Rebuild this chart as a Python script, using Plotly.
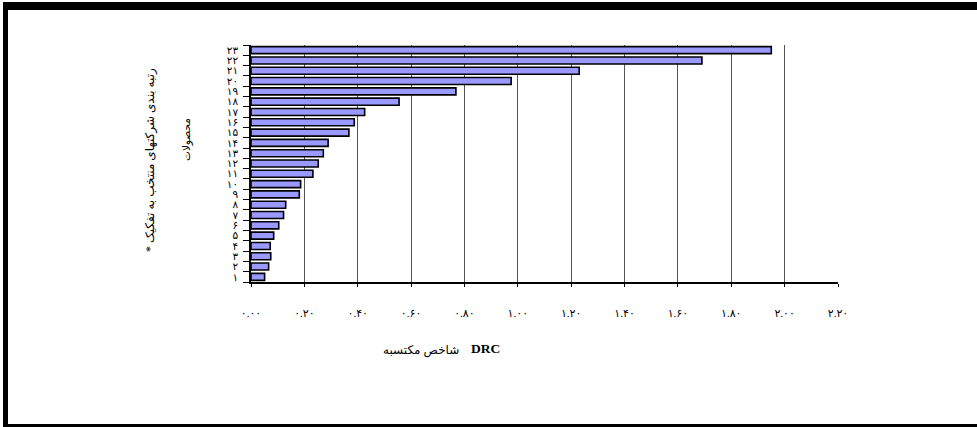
import plotly.graph_objects as go

categories = ["۱", "۲", "۳", "۴", "۵", "۶", "۷", "۸", "۹", "۱۰", "۱۱", "۱۲",
              "۱۳", "۱۴", "۱۵", "۱۶", "۱۷", "۱۸", "۱۹", "۲۰", "۲۱", "۲۲", "۲۳"]
drc_values = [0.051, 0.066, 0.074, 0.072, 0.085, 0.104, 0.122, 0.130, 0.181, 0.186,
              0.232, 0.252, 0.271, 0.289, 0.367, 0.387, 0.426, 0.555, 0.768, 0.975,
              1.23, 1.69, 1.95]
x_tick_values = [0.0, 0.2, 0.4, 0.6, 0.8, 1.0, 1.2, 1.4, 1.6, 1.8, 2.0, 2.2]
x_tick_labels = ["۰.۰۰", "۰.۲۰", "۰.۴۰", "۰.۶۰", "۰.۸۰", "۱.۰۰", "۱.۲۰",
                 "۱.۴۰", "۱.۶۰", "۱.۸۰", "۲.۰۰", "۲.۲۰"]

W, H = 977, 427
ML, MR, MT, MB = 251, 139, 45, 145
PW, PH = W - ML - MR, H - MT - MB


def px_x(p):
    return (p - ML) / PW


def px_y(p):
    return (H - MB - p) / PH


FONT = "Liberation Serif, Times New Roman, DejaVu Sans, serif"

fig = go.Figure(go.Bar(
    x=drc_values, y=categories, orientation="h",
    marker=dict(color="#9999FF", line=dict(color="black", width=1.6)),
))

shapes = []
# frame: top, left, bottom (no right edge)
for x0, y0, x1, y1 in [(3, 2, 977, 10), (3, 2, 8, 427), (3, 424, 977, 427)]:
    shapes.append(dict(type="rect", xref="paper", yref="paper",
                       x0=px_x(x0), x1=px_x(x1), y0=px_y(y1), y1=px_y(y0),
                       fillcolor="black", line=dict(width=0, color="rgba(0,0,0,0)"),
                       layer="above"))

fig.update_layout(
    width=W, height=H,
    margin=dict(l=ML, r=MR, t=MT, b=MB, pad=0),
    paper_bgcolor="white", plot_bgcolor="white",
    showlegend=False,
    bargap=0.32,
    font=dict(family=FONT, color="black", size=11),
    shapes=shapes,
    xaxis=dict(
        range=[0, 2.2], tickvals=x_tick_values, ticktext=x_tick_labels,
        showgrid=True, gridcolor="#555555", gridwidth=1,
        showline=True, linecolor="black", linewidth=1.5,
        ticks="outside", ticklen=3, tickcolor="black",
        ticklabelstandoff=17, tickfont=dict(size=11),
        zeroline=False, fixedrange=True,
    ),
    yaxis=dict(
        type="category", tickson="boundaries",
        tickmode="array", tickvals=categories, ticktext=categories,
        showline=True, linecolor="black", linewidth=1.5,
        ticks="outside", ticklen=6, tickcolor="black",
        ticklabelstandoff=9, tickfont=dict(size=10.5),
        showgrid=False, fixedrange=True,
    ),
    annotations=[
        dict(text="شاخص مکتسبه", xref="paper", yref="paper",
             x=px_x(461), y=px_y(350), showarrow=False,
             font=dict(size=12, family=FONT), xanchor="right", yanchor="middle"),
        dict(text="<b>DRC</b>", xref="paper", yref="paper",
             x=px_x(469), y=px_y(348), showarrow=False,
             font=dict(size=13.5, family=FONT), xanchor="left", yanchor="middle"),
        dict(text="* رتبه بندی شرکتهای منتخب به تفکیک", xref="paper", yref="paper",
             x=px_x(150), y=px_y(160), showarrow=False, textangle=-90,
             font=dict(size=12, family=FONT), xanchor="center", yanchor="middle"),
        dict(text="محصولات", xref="paper", yref="paper",
             x=px_x(187), y=px_y(140), showarrow=False, textangle=-90,
             font=dict(size=10.5, family=FONT), xanchor="center", yanchor="middle"),
    ],
)

fig.write_html(
    "out.html",
    config={"displayModeBar": False},
    post_script="document.body.style.margin='0';"
                "document.documentElement.style.overflow='hidden';",
)
